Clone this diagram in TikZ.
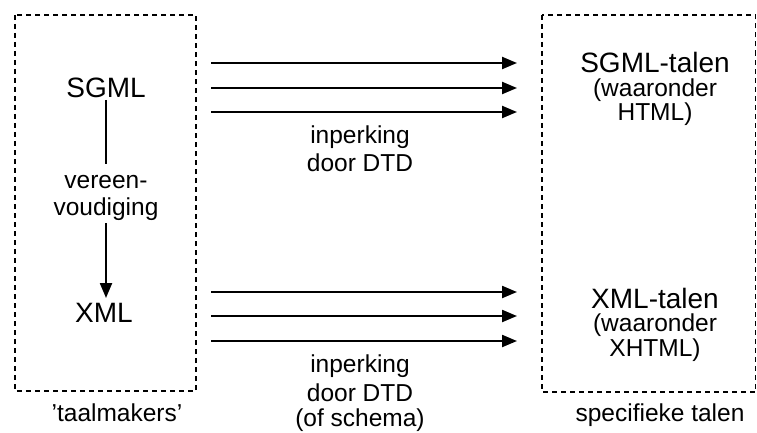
\documentclass[tikz,border=0pt]{standalone}
\usepackage{fontspec}
\setmainfont{Liberation Sans}
\usetikzlibrary{arrows.meta}
\begin{document}
\begin{tikzpicture}[x=1pt,y=-1pt,
  dbox/.style={draw, line width=1.7pt, dash pattern=on 5pt off 4pt},
  big/.style={font=\fontsize{28}{32}\selectfont, inner sep=0pt, anchor=center},
  small/.style={font=\fontsize{24.5}{28}\selectfont, inner sep=0pt, anchor=center, align=center},
  conn/.style={line width=2.2pt, -{Triangle[length=15pt,width=12pt]}},
  plain/.style={line width=2.2pt}]
\useasboundingbox (0,0) rectangle (757,433);
% boxes
\draw[dbox] (15,15) rectangle (196,391);
\draw[dbox] (542,15) rectangle (755.5,392);
% left texts
\node[big] (sgml) at (106,88) {SGML};
\node[big] (xml) at (104,313) {XML};
\node[small] (v1) at (106,182) {vereen-};
\node[small] (v2) at (106,209) {voudiging};
\coordinate (s0) at (106,100);
\coordinate (s1) at (106,164);
\coordinate (s2) at (106,223);
\coordinate (s3) at (106,298);
\draw[plain] (s0) -- (s1);
\draw[conn] (s2) -- (s3);
% right texts
\node[big] (sgt) at (655,62) {SGML-talen};
\node[small] (w1) at (655,90) {(waaronder};
\node[small] (w2) at (655,114) {HTML)};
\node[big] (xmt) at (655,298) {XML-talen};
\node[small] (w3) at (655,325) {(waaronder};
\node[small] (w4) at (655,350) {XHTML)};
% arrows
\foreach \y/\n in {63/a,88/b,112/c,292/d,316/e,341/f}{
  \coordinate (\n s) at (211,\y);
  \coordinate (\n e) at (517,\y);
  \draw[conn] (\n s) -- (\n e);
}
% labels
\node[small] (i1) at (360,137) {inperking};
\node[small] (i2) at (360,163) {door DTD};
\node[small] (i3) at (360,366) {inperking};
\node[small] (i4) at (360,393) {door DTD};
\node[small] (i5) at (360,420) {(of schema)};
\node[small] (tm) at (117,413) {\char39 taalmakers\char39};
\node[small] (st) at (660,415) {specifieke talen};
\end{tikzpicture}
\end{document}
